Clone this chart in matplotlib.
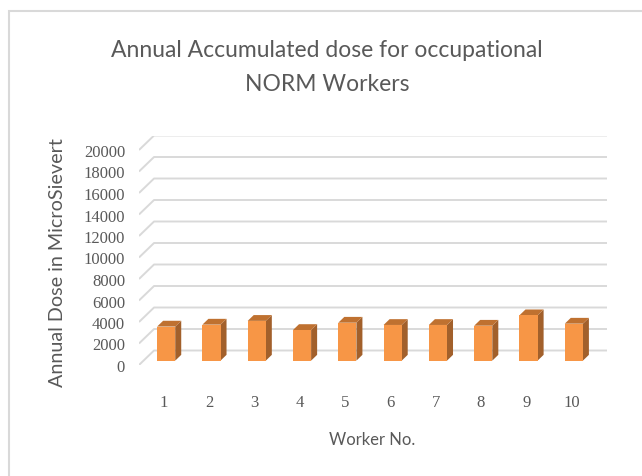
import matplotlib
matplotlib.use("Agg")
import matplotlib.pyplot as plt
from matplotlib.patches import Polygon, Rectangle

workers = [str(i) for i in range(1, 11)]
dose = [3170, 3350, 3700, 2850, 3530, 3320, 3320, 3250, 4220, 3440]
yticks = list(range(0, 20001, 2000))

title = "Annual Accumulated dose for occupational\nNORM Workers"
ylabel = "Annual Dose in MicroSievert"
xlabel = "Worker No."

sans = ["Lato", "DejaVu Sans"]
serif = ["Liberation Serif", "DejaVu Serif"]
grey = "#595959"
grid = "#D9D9D9"
front_c, top_c, side_c = "#F79646", "#BF7130", "#A2602B"

W, H = 642, 477
fig = plt.figure(figsize=(W / 100, H / 100), dpi=100)

# chart frame (only left and top edges visible in the crop)
fig.patches.append(Rectangle((9 / W, -0.1), 1.2, 1 - 12 / H + 0.1, transform=fig.transFigure,
                             fill=False, edgecolor=grid, lw=1.5))

ax = fig.add_axes([139 / W, 111 / H, 468 / W, 229.5 / H])
dx = 15 / 45.2   # depth offset in category units
dy = 14.5 / (215 / 20000)  # depth offset in value units
ax.set_xlim(0.5, 10.5 + dx)
ax.set_ylim(0, 20000 + dy)
for s in ax.spines.values():
    s.set_visible(False)

# floor/back wall gridlines
for v in yticks:
    ax.plot([0.5, 0.5 + dx, 10.5 + dx], [v, v + dy, v + dy], color=grid, lw=1.4,
            solid_capstyle="butt", zorder=1)

w, d0, d1 = 0.4, 0.3, 0.7
for i, v in enumerate(dose):
    xc = i + 1
    xl = xc - w / 2 + d0 * dx
    xr = xl + w
    yb = d0 * dy
    yt = v + d0 * dy
    ox, oy = (d1 - d0) * dx, (d1 - d0) * dy
    ax.add_patch(Polygon([(xr, yb), (xr + ox, yb + oy), (xr + ox, yt + oy), (xr, yt)],
                         closed=True, fc=side_c, ec="none", zorder=3))
    ax.add_patch(Polygon([(xl, yt), (xr, yt), (xr + ox, yt + oy), (xl + ox, yt + oy)],
                         closed=True, fc=top_c, ec="none", zorder=3))
    ax.add_patch(Polygon([(xl, yb), (xr, yb), (xr, yt), (xl, yt)],
                         closed=True, fc=front_c, ec="none", zorder=4))

ax.set_yticks(yticks)
ax.set_yticklabels([str(t) for t in yticks], family=serif, fontsize=12, color=grey)
ax.set_xticks([i + 1 + 0.05 for i in range(len(workers))])
ax.set_xticklabels(workers, family=serif, fontsize=12, color=grey)
ax.tick_params(axis="y", length=0, pad=10)
ax.tick_params(axis="x", length=0, pad=21)

fig.text(327 / W, 1 - 67.5 / H, title, ha="center", va="center", family=sans,
         fontsize=16.5, color=grey, linespacing=1.75)
fig.text(58 / W, 1 - 263 / H, ylabel, ha="center", va="center", rotation=90,
         family=sans, fontsize=14.2, color=grey)
fig.text(372 / W, 1 - 440 / H, xlabel, ha="center", va="center", family=sans,
         fontsize=12, color=grey)

fig.savefig("out.png", dpi=100)
